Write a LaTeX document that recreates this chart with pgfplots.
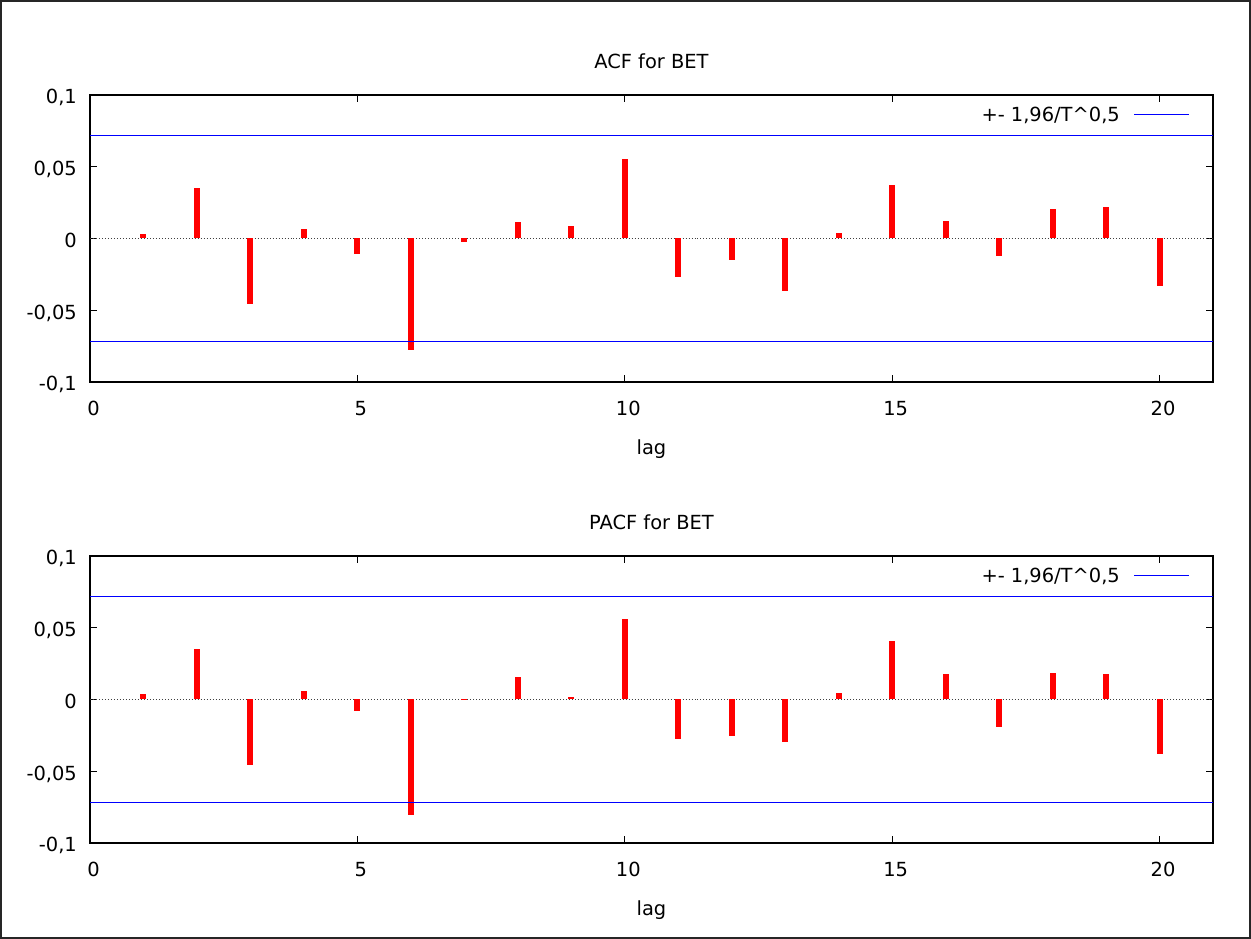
\documentclass[border=0pt]{standalone}
\usepackage{pgfplots}
\pgfplotsset{compat=1.18}
\usepackage{pgfplotstable}
\usepackage{fontspec}
\setmainfont{DejaVu Sans}

% Sample autocorrelations of BET returns, lags 1..20
\pgfplotstableread{
lag acf     pacf
1   0.0032  0.0035
2   0.0355  0.0355
3  -0.0455 -0.0457
4   0.0065  0.0056
5  -0.0111 -0.0079
6  -0.0777 -0.0803
7  -0.0023 -0.0004
8   0.0114  0.0160
9   0.0088  0.0014
10  0.0555  0.0561
11 -0.0265 -0.0278
12 -0.0151 -0.0255
13 -0.0369 -0.0297
14  0.0039  0.0042
15  0.0374  0.0408
16  0.0125  0.0179
17 -0.0121 -0.0190
18  0.0206  0.0183
19  0.0218  0.0181
20 -0.0332 -0.0383
}\corrtab

% 1.96/sqrt(T) confidence band
\def\band{0.0716}

\pgfplotsset{
  corrplot/.style={
    scale only axis, width=1123bp, height=287bp, anchor=south west,
    xmin=0, xmax=21, ymin=-0.1, ymax=0.1,
    xtick={0,5,10,15,20}, xticklabels={0,5,10,15,20},
    ytick={-0.1,-0.05,0,0.05,0.1},
    yticklabels={{-0,1},{-0,05},{0},{0,05},{0,1}},
    tick align=inside, tick pos=both, major tick length=7bp,
    axis line style={line width=1.3bp, black},
    every tick/.style={black, line width=1bp},
    xticklabel style={anchor=north, inner sep=0pt, xshift=3.5bp},
    xticklabel shift=19bp,
    yticklabel style={anchor=base east, inner sep=0pt, yshift=-8.9bp},
    yticklabel shift=13bp,
    xlabel={lag},
    xlabel style={at={(axis description cs:0.5,0)}, anchor=center, yshift=-67bp},
    title style={at={(axis description cs:0.5,1)}, anchor=center, yshift=28bp},
    legend style={draw=none, fill=none, at={(1,1)}, anchor=east,
      xshift=-23bp, yshift=-20bp, inner sep=0pt, column sep=12bp,
      legend cell align=right},
    legend plot pos=right,
    legend image code/.code={\draw[##1] (0bp,0bp) -- (55bp,0bp);},
  },
}

\begin{document}
\begin{tikzpicture}[x=1bp, y=1bp, font=\fontsize{19.5}{23}\selectfont]
\useasboundingbox (0,0) rectangle (1251,939);
\draw[line width=2bp, black!85] (1,1) rectangle (1250,938);

\begin{axis}[corrplot, at={(90bp,557bp)}, title={ACF for BET}]
  \addplot[black!75, dotted, line width=1bp, forget plot] coordinates {(0,0) (21,0)};
  \addplot[red, ycomb, line width=6bp, mark=none, forget plot] table[x=lag, y=acf] {\corrtab};
  \addplot[blue, line width=1bp] coordinates {(0,\band) (21,\band)};
  \addlegendentry{+- 1,96/T\textasciicircum 0,5}
  \addplot[blue, line width=1bp, forget plot] coordinates {(0,-\band) (21,-\band)};
\end{axis}

\begin{axis}[corrplot, at={(90bp,96bp)}, title={PACF for BET}]
  \addplot[black!75, dotted, line width=1bp, forget plot] coordinates {(0,0) (21,0)};
  \addplot[red, ycomb, line width=6bp, mark=none, forget plot] table[x=lag, y=pacf] {\corrtab};
  \addplot[blue, line width=1bp] coordinates {(0,\band) (21,\band)};
  \addlegendentry{+- 1,96/T\textasciicircum 0,5}
  \addplot[blue, line width=1bp, forget plot] coordinates {(0,-\band) (21,-\band)};
\end{axis}
\end{tikzpicture}
\end{document}
